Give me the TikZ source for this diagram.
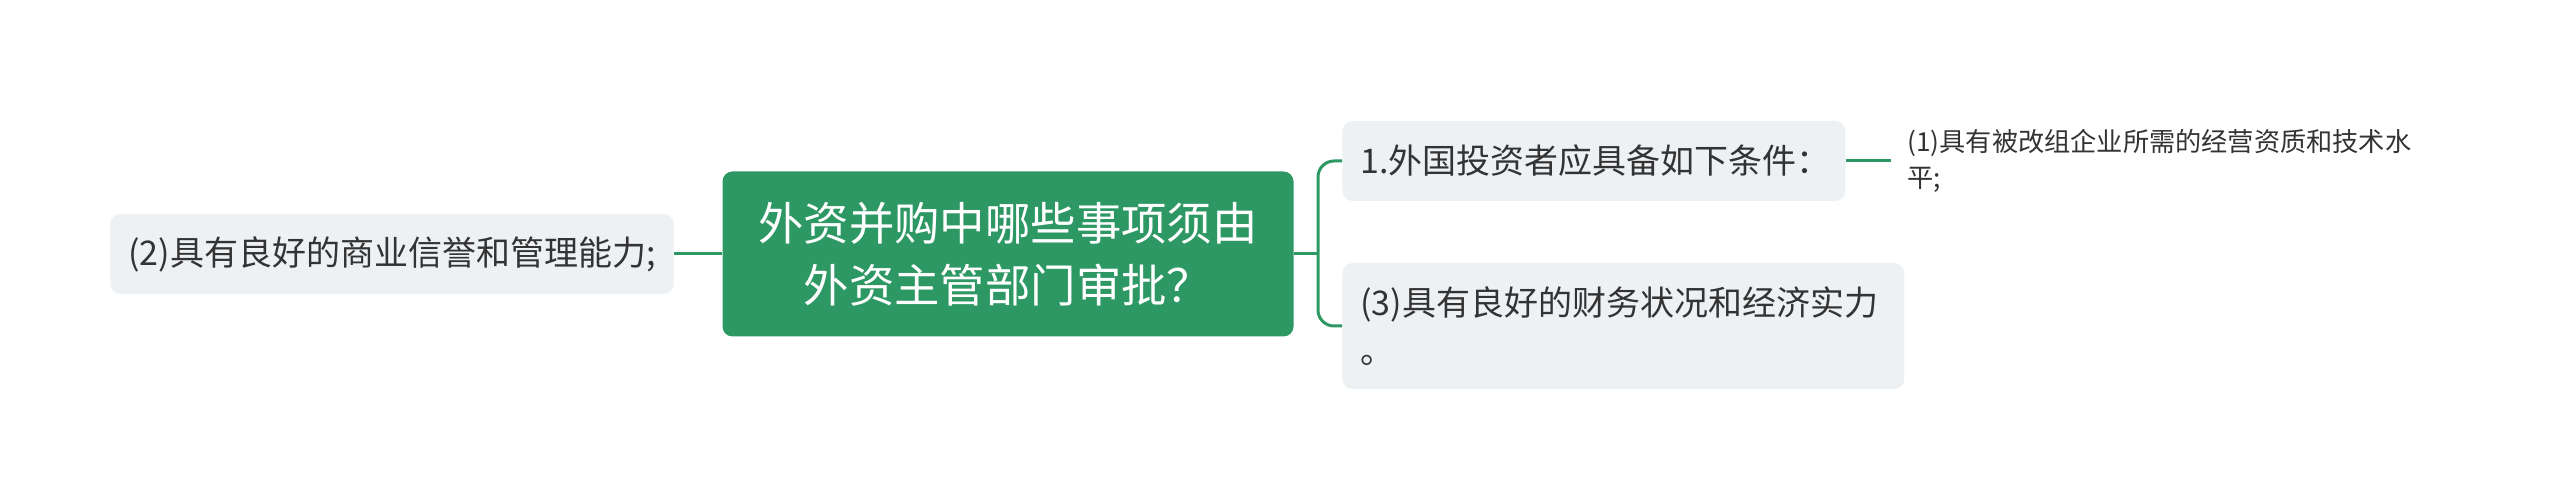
\documentclass[tikz,border=0pt]{standalone}
\usepackage{fontspec}
\newfontfamily\cjk{Noto Sans CJK SC}
\usetikzlibrary{positioning}
\definecolor{rootgreen}{RGB}{46,152,100}
\definecolor{boxgray}{RGB}{238,241,244}
\definecolor{textgray}{RGB}{51,51,51}

\tikzset{
  roottopic/.style={fill=rootgreen, text=white, rounded corners=5pt, align=center,
    font=\cjk\fontsize{22.7}{31}\selectfont, minimum width=285.5pt, minimum height=82.5pt},
  topicbox/.style={fill=boxgray, text=textgray, rounded corners=5pt, align=left,
    font=\cjk\fontsize{17}{24}\selectfont, inner xsep=9pt},
  leaftext/.style={text=textgray, align=left, inner xsep=8pt, inner ysep=0pt,
    font=\cjk\fontsize{13.1}{18}\selectfont},
  branch/.style={draw=rootgreen, line width=1.5pt}
}

\begin{document}
\begin{tikzpicture}[x=0.5pt, y=-0.5pt]
    \useasboundingbox (0,0) rectangle (2560,501);
    % central topic
    \node[roottopic] (root) at (1008,254) {外资并购中哪些事项须由\\外资主管部门审批？};
    % left branch
    \node[topicbox, minimum width=279pt, minimum height=40pt] (ability) at (392,254) {(2)具有良好的商业信誉和管理能力;};
    % right branches
    \node[topicbox, anchor=west, text width=233.5pt, minimum height=40pt] (cond) at (1342,161) {1.外国投资者应具备如下条件：};
    \node[topicbox, anchor=west, text width=263pt, minimum height=63pt] (finance) at (1342,326) {(3)具有良好的财务状况和经济实力\\。};
    \node[leaftext, anchor=west] (detail) at (1891,161) {(1)具有被改组企业所需的经营资质和技术水\\平;};
    \coordinate (fork) at (1318,254);

    \draw[branch] (ability.east) -- (root.west);
    \draw[branch] (root.east) -- (fork);
    \draw[branch, rounded corners=8pt] (fork) |- (cond.west);
    \draw[branch, rounded corners=8pt] (fork) |- (finance.west);
    \draw[branch] (cond.east) -- (detail.west);
\end{tikzpicture}
\end{document}
